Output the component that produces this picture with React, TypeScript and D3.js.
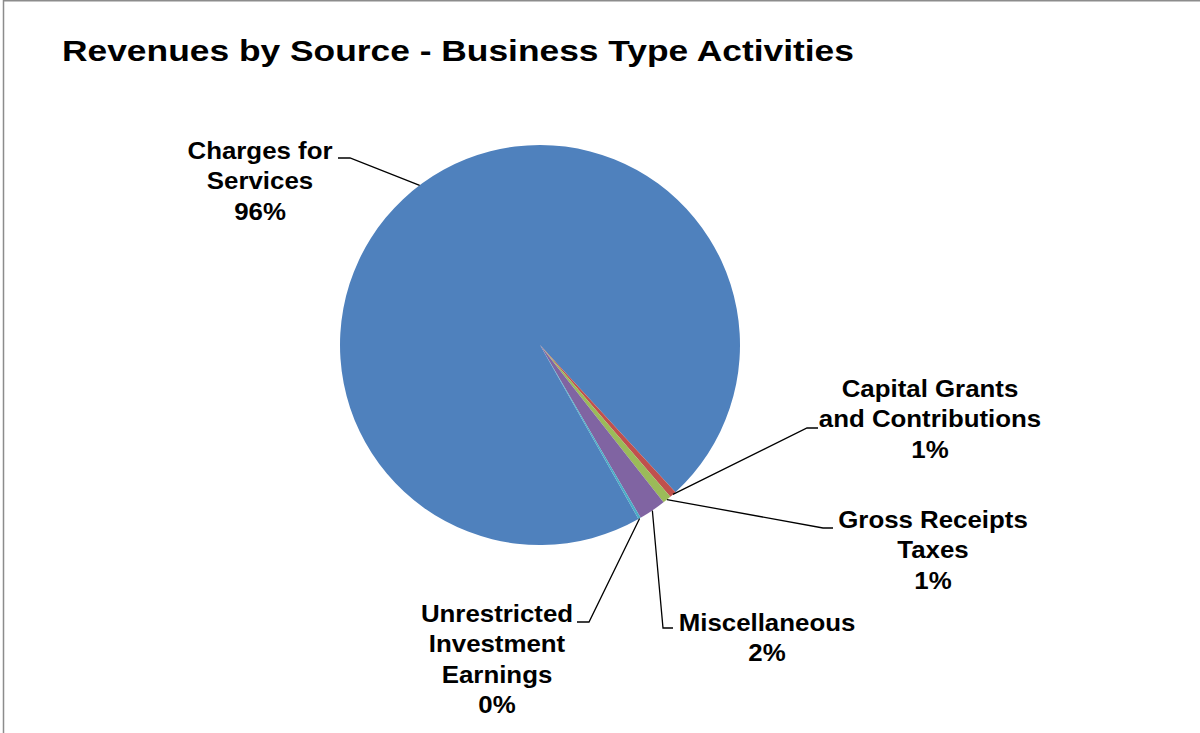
import React from "react";
import * as d3 from "d3";

const categories = [
  "Charges for Services",
  "Capital Grants and Contributions",
  "Gross Receipts Taxes",
  "Miscellaneous",
  "Unrestricted Investment Earnings",
];
const values = [96.35, 0.55, 0.7, 2.2, 0.2];
const colors = ["#4F81BD", "#C0504D", "#9BBB59", "#8064A2", "#4BACC6"];
const labelLines = [
  ["Charges for", "Services"],
  ["Capital Grants", "and Contributions"],
  ["Gross Receipts", "Taxes"],
  ["Miscellaneous"],
  ["Unrestricted", "Investment", "Earnings"],
];

// layout for labels (text center x, first line baseline y) and leader elbow points
const labelLayout = [
  { x: 260, y: 159, elbow: [[338, 158], [350, 158]] },
  { x: 930, y: 397, elbow: [[818, 428], [807, 428]] },
  { x: 933, y: 528, elbow: [[833, 528], [823, 528]] },
  { x: 767, y: 631, elbow: [[673, 628], [663, 628]] },
  { x: 497, y: 622, elbow: [[577, 622], [589, 622]] },
];

export default function App() {
  const W = 1200, H = 733;
  const cx = 540, cy = 345, r = 200;
  const start = (150.5 * Math.PI) / 180;
  const pie = d3.pie<number>().sort(null).startAngle(start).endAngle(start + 2 * Math.PI);
  const arcs = pie(values);
  const arc = d3.arc<d3.PieArcDatum<number>>().innerRadius(0).outerRadius(r);
  const total = d3.sum(values);
  const fmt = (v: number) => `${Math.round((v / total) * 100)}%`;
  const lineH = 30.5;
  const fontFamily = "'Liberation Sans', Arial, sans-serif";

  const edge = (a: number, rr: number) => [cx + rr * Math.sin(a), cy - rr * Math.cos(a)];
  const leaderAngle = (i: number) => {
    const d = arcs[i];
    return (d.startAngle + d.endAngle) / 2;
  };

  return (
    <svg width={W} height={H} style={{ position: "absolute", left: 0, top: 0 }}>
      <rect x={0} y={0} width={W} height={H} fill="#fff" />
      <path d={`M3.5,${H + 5} V0.75 H${W + 5}`} fill="none" stroke="#8c8c8c" strokeWidth={1.5} />
      <g transform="translate(62,61) scale(1.22,1)">
        <text x={0} y={0} fontFamily={fontFamily} fontWeight="bold" fontSize={29} fill="#000">
          Revenues by Source - Business Type Activities
        </text>
      </g>
      <g transform={`translate(${cx},${cy})`}>
        {arcs.map((d, i) => (
          <path key={i} d={arc(d) || ""} fill={colors[i]} />
        ))}
      </g>
      {labelLayout.map((L, i) => {
        const target = i === 0 ? edge((-37 * Math.PI) / 180, r) : edge(leaderAngle(i), r);
        const pts = [L.elbow[0], L.elbow[1], target];
        return (
          <polyline
            key={`l${i}`}
            points={pts.map((p) => p.join(",")).join(" ")}
            fill="none"
            stroke="#000"
            strokeWidth={1.3}
          />
        );
      })}
      {labelLayout.map((L, i) => {
        const lines = [...labelLines[i], fmt(values[i])];
        return (
          <g key={`t${i}`} transform={`translate(${L.x},0) scale(1.1,1)`}>
            <text
              fontFamily={fontFamily}
              fontWeight="bold"
              fontSize={23.5}
              textAnchor="middle"
              fill="#000"
            >
              {lines.map((s, j) => (
                <tspan key={j} x={0} y={L.y + j * lineH}>
                  {s}
                </tspan>
              ))}
            </text>
          </g>
        );
      })}
    </svg>
  );
}
